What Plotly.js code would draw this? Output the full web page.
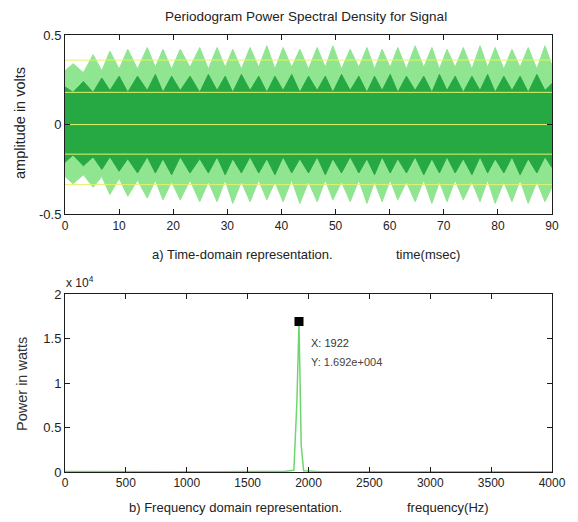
<!DOCTYPE html>
<html>
<head>
<meta charset="utf-8">
<script src="https://cdn.plot.ly/plotly-3.0.1.min.js"></script>
<style>html,body{margin:0;padding:0;background:#fff;}#chart{width:578px;height:522px;}</style>
</head>
<body>
<div id="chart"></div>
<script>
// ---- Time-domain envelope (ms, volts) ----
const envTime = [0, 1.5, 3.4, 5.2, 6.8, 8.3, 10.0, 11.6, 13.4, 15.2, 16.7, 18.1, 19.7, 21.3, 23.1, 24.9, 26.5, 28.1, 29.6, 31.0, 32.6, 34.2, 35.8, 37.3, 38.8, 40.3, 41.9, 43.4, 45.0, 46.6, 48.1, 49.5, 51.1, 52.7, 54.3, 55.8, 57.2, 58.6, 60.1, 61.5, 63.1, 64.7, 66.3, 67.8, 69.2, 70.6, 72.1, 73.6, 75.2, 76.7, 78.1, 79.5, 81.1, 82.6, 84.1, 85.6, 87.2, 88.7, 90];
const lightUpper = [0.30, 0.34,0.29, 0.39,0.30, 0.41,0.31, 0.42,0.31, 0.43,0.32, 0.42,0.31, 0.42,0.32, 0.43,0.31, 0.43,0.32, 0.42,0.31, 0.43,0.32, 0.44,0.31, 0.43,0.32, 0.42,0.31, 0.43,0.32, 0.44,0.31, 0.42,0.32, 0.43,0.31, 0.42,0.32, 0.43,0.31, 0.44,0.32, 0.43,0.31, 0.42,0.32, 0.43,0.31, 0.44,0.32, 0.43,0.31, 0.42,0.32, 0.43,0.31, 0.44, 0.33];
const lightLower = [-0.29, -0.33,-0.28, -0.35,-0.29, -0.39,-0.30, -0.40,-0.31, -0.41,-0.31, -0.42,-0.32, -0.42,-0.31, -0.43,-0.32, -0.43,-0.31, -0.44,-0.32, -0.43,-0.31, -0.42,-0.32, -0.43,-0.31, -0.44,-0.32, -0.43,-0.31, -0.42,-0.32, -0.43,-0.31, -0.44,-0.32, -0.43,-0.31, -0.42,-0.32, -0.43,-0.31, -0.44,-0.32, -0.43,-0.31, -0.42,-0.32, -0.43,-0.31, -0.44,-0.32, -0.43,-0.31, -0.44,-0.32, -0.43, -0.35];
const darkUpper = [0.21, 0.18,0.24, 0.18,0.26, 0.19,0.27, 0.18,0.27, 0.19,0.28, 0.18,0.27, 0.19,0.27, 0.18,0.28, 0.19,0.27, 0.18,0.28, 0.19,0.27, 0.18,0.27, 0.19,0.28, 0.18,0.27, 0.19,0.27, 0.18,0.28, 0.19,0.27, 0.18,0.27, 0.19,0.28, 0.18,0.27, 0.19,0.27, 0.18,0.28, 0.19,0.27, 0.18,0.27, 0.19,0.28, 0.18,0.27, 0.19,0.27, 0.18,0.28, 0.19, 0.23];
const darkLower = [-0.21, -0.17,-0.23, -0.18,-0.25, -0.18,-0.26, -0.19,-0.27, -0.18,-0.27, -0.19,-0.28, -0.18,-0.27, -0.19,-0.27, -0.18,-0.28, -0.19,-0.27, -0.18,-0.27, -0.19,-0.28, -0.18,-0.27, -0.19,-0.27, -0.18,-0.28, -0.19,-0.27, -0.18,-0.27, -0.19,-0.28, -0.18,-0.27, -0.19,-0.27, -0.18,-0.28, -0.19,-0.27, -0.18,-0.27, -0.19,-0.28, -0.18,-0.27, -0.19,-0.27, -0.18,-0.28, -0.19,-0.27, -0.18, -0.24];
const levelLines = [0.36, 0.18, 0, -0.165, -0.335];
const levelSpan = [0, 90];

// ---- Frequency-domain spectrum (Hz, watts) ----
const freqHz = [0, 200, 400, 600, 800, 1000, 1200, 1400, 1600, 1800, 1880, 1905, 1922, 1940, 1960, 2100, 2400, 2800, 3200, 3600, 4000];
const powerW = [60, 40, 30, 30, 30, 30, 30, 30, 40, 60, 200, 8000, 16920, 3000, 150, 40, 30, 30, 30, 30, 30];
const peakFreq = [1922];
const peakPower = [16920];

// ---- Tick labels ----
const timeTicks = [0, 10, 20, 30, 40, 50, 60, 70, 80, 90];
const ampTicks = [-0.5, 0, 0.5];
const ampTickText = ['-0.5', '0', '0.5'];
const freqTicks = [0, 500, 1000, 1500, 2000, 2500, 3000, 3500, 4000];
const powTicks = [0, 5000, 10000, 15000, 20000];
const powTickText = ['0', '0.5', '1', '1.5', '2'];

const LIGHT = '#90e590';
const DARK = '#26a843';
const YEL = '#e4f26a';

const traces = [
  {x: envTime, y: lightLower, xaxis: 'x', yaxis: 'y', mode: 'lines', line: {color: LIGHT, width: 1}, hoverinfo: 'skip'},
  {x: envTime, y: lightUpper, xaxis: 'x', yaxis: 'y', mode: 'lines', line: {color: LIGHT, width: 1}, fill: 'tonexty', fillcolor: LIGHT, hoverinfo: 'skip'},
  {x: envTime, y: darkLower, xaxis: 'x', yaxis: 'y', mode: 'lines', line: {color: DARK, width: 1}, hoverinfo: 'skip'},
  {x: envTime, y: darkUpper, xaxis: 'x', yaxis: 'y', mode: 'lines', line: {color: DARK, width: 1}, fill: 'tonexty', fillcolor: DARK, hoverinfo: 'skip'}
];
levelLines.forEach(v => {
  traces.push({x: levelSpan, y: [v, v], xaxis: 'x', yaxis: 'y', mode: 'lines', line: {color: YEL, width: 1}, hoverinfo: 'skip'});
});
traces.push({x: freqHz, y: powerW, xaxis: 'x2', yaxis: 'y2', mode: 'lines', line: {color: '#6fd66f', width: 1.5}, hoverinfo: 'skip'});
traces.push({x: peakFreq, y: peakPower, xaxis: 'x2', yaxis: 'y2', mode: 'markers', marker: {symbol: 'square', size: 9, color: '#000'}, hoverinfo: 'skip'});

const axisBase = {
  showgrid: false, zeroline: false, showline: true, linecolor: '#1c1c1c', linewidth: 1,
  mirror: 'ticks', ticks: 'inside', ticklen: 5, tickcolor: '#1c1c1c',
  tickfont: {family: 'Liberation Sans, Arial, sans-serif', size: 12, color: '#222'}
};

// pixel helpers for annotations (plot area: l=65, r=26, t=35, b=50)
const px = v => (v - 65) / 487;
const py = v => (472 - v) / 437;

const txt = {family: 'Liberation Sans, Arial, sans-serif', size: 13, color: '#222'};

const layout = {
  width: 578, height: 522,
  margin: {l: 65, r: 26, t: 35, b: 50},
  paper_bgcolor: '#fff', plot_bgcolor: '#fff',
  showlegend: false,
  xaxis: Object.assign({}, axisBase, {domain: [0, 1], anchor: 'y', range: [0, 90], tickvals: timeTicks}),
  yaxis: Object.assign({}, axisBase, {domain: [0.59, 1], anchor: 'x', range: [-0.5, 0.5], tickvals: ampTicks, ticktext: ampTickText, tickfont: Object.assign({}, axisBase.tickfont, {size: 13})}),
  xaxis2: Object.assign({}, axisBase, {domain: [0, 1], anchor: 'y2', range: [0, 4000], tickvals: freqTicks}),
  yaxis2: Object.assign({}, axisBase, {domain: [0, 0.407], anchor: 'x2', range: [0, 20000], tickvals: powTicks, ticktext: powTickText, tickfont: Object.assign({}, axisBase.tickfont, {size: 13})}),
  annotations: [
    {text: 'Periodogram Power Spectral Density for Signal', xref: 'paper', yref: 'paper', x: px(306), y: py(17), xanchor: 'center', yanchor: 'middle', showarrow: false, font: Object.assign({}, txt, {size: 13.5})},
    {text: 'a) Time-domain representation.', xref: 'paper', yref: 'paper', x: px(150), y: py(254), xanchor: 'left', yanchor: 'middle', showarrow: false, font: txt},
    {text: 'time(msec)', xref: 'paper', yref: 'paper', x: px(394), y: py(254), xanchor: 'left', yanchor: 'middle', showarrow: false, font: txt},
    {text: 'b) Frequency domain representation.', xref: 'paper', yref: 'paper', x: px(127), y: py(507), xanchor: 'left', yanchor: 'middle', showarrow: false, font: txt},
    {text: 'frequency(Hz)', xref: 'paper', yref: 'paper', x: px(405), y: py(507), xanchor: 'left', yanchor: 'middle', showarrow: false, font: txt},
    {text: 'amplitude in volts', xref: 'paper', yref: 'paper', x: px(20), y: py(123), xanchor: 'center', yanchor: 'middle', textangle: -90, showarrow: false, font: Object.assign({}, txt, {size: 14.5})},
    {text: 'Power in watts', xref: 'paper', yref: 'paper', x: px(22), y: py(384), xanchor: 'center', yanchor: 'middle', textangle: -90, showarrow: false, font: Object.assign({}, txt, {size: 14.5, color: '#333'})},
    {text: 'x 10<sup>4</sup>', xref: 'paper', yref: 'paper', x: px(64), y: py(282), xanchor: 'left', yanchor: 'middle', showarrow: false, font: Object.assign({}, txt, {size: 12})},
    {text: 'X: 1922', xref: 'paper', yref: 'paper', x: px(309), y: py(343), xanchor: 'left', yanchor: 'middle', showarrow: false, font: Object.assign({}, txt, {size: 11, color: '#333'})},
    {text: 'Y: 1.692e+004', xref: 'paper', yref: 'paper', x: px(309), y: py(362), xanchor: 'left', yanchor: 'middle', showarrow: false, font: Object.assign({}, txt, {size: 11, color: '#444'})}
  ]
};

Plotly.newPlot('chart', traces, layout, {displayModeBar: false, staticPlot: true});
</script>
</body>
</html>
